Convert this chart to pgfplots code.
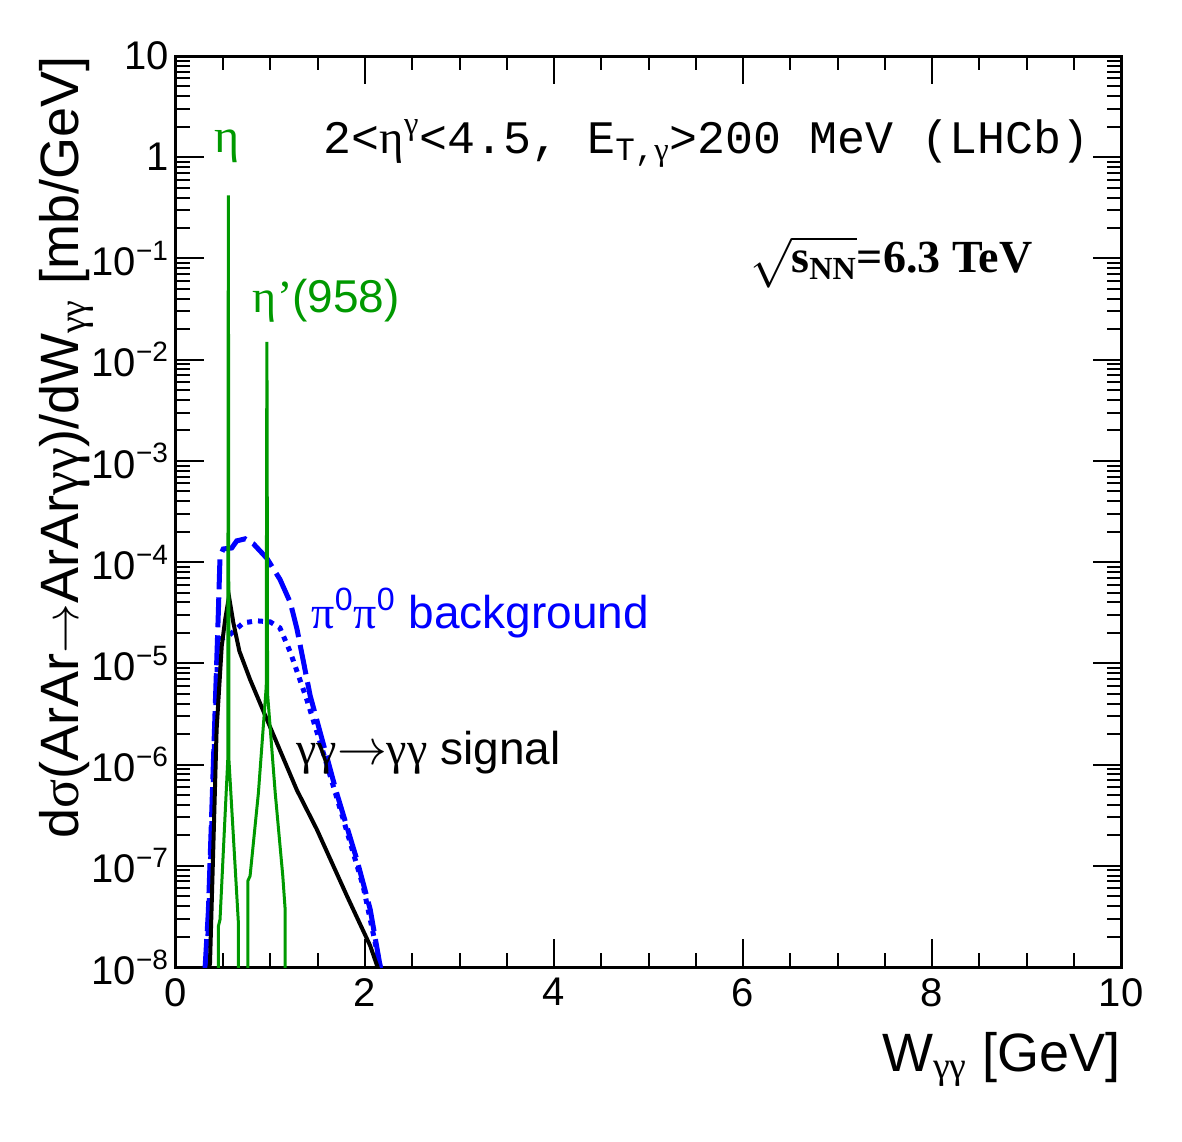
\documentclass[border=0pt]{standalone}
\usepackage{amsmath}
\usepackage{pgfplots}
\pgfplotsset{compat=1.18}
\usepackage{fontspec}
\setmainfont{Liberation Sans}
\newfontfamily\gr{Liberation Serif}
\newfontfamily\mono{Liberation Mono}
\newfontfamily\tms{Liberation Serif}
\definecolor{rgreen}{RGB}{0,153,0}
\definecolor{rblue}{RGB}{0,0,255}

\begin{document}
\begin{tikzpicture}
\begin{axis}[
  scale only axis, width=472.5pt, height=455.5pt,
  xmin=0, xmax=10, ymin=1e-8, ymax=10, ymode=log,
  axis line style={line width=1.5pt},
  tick align=inside, tick pos=both,
  major tick length=14pt, minor tick length=7pt,
  every tick/.style={black, line width=1pt},
  xtick={0,2,4,6,8,10}, xticklabels={0,2,4,6,8,10},
  minor x tick num=3,
  ytick={1e-8,1e-7,1e-6,1e-5,1e-4,1e-3,1e-2,1e-1,1,10},
  yticklabels={10\textsuperscript{−8},10\textsuperscript{−7},10\textsuperscript{−6},10\textsuperscript{−5},10\textsuperscript{−4},10\textsuperscript{−3},10\textsuperscript{−2},10\textsuperscript{−1},1,10},
  ticklabel style={font=\fontsize{20}{22}\selectfont},
  xticklabel style={yshift=-2pt},
  xlabel={W\textsubscript{\gr γγ} [GeV]},
  ylabel={d{\gr σ}(ArAr$\rightarrow$ArAr{\gr γγ})/dW\textsubscript{\gr γγ} [mb/GeV]},
  label style={font=\fontsize{27}{30}\selectfont, inner sep=0pt},
  xlabel style={at={(axis description cs:1,-0.1142)}, anchor=base east},
  ylabel style={at={(axis description cs:-0.1037,1)}, anchor=base east},
  no markers,
  clip=true,
]
% pi0pi0 background (dashed)
\addplot[rblue, line width=2.5pt, dash pattern=on 15pt off 4pt] coordinates {
(0.307,9.55e-9) (0.342,3.467e-8) (0.378,3.311e-7) (0.413,3.236e-6) (0.448,3.162e-5)
(0.466,1.148e-4) (0.50,1.349e-4) (0.59,1.380e-4) (0.643,1.622e-4) (0.731,1.698e-4)
(0.82,1.514e-4) (0.96,1.096e-4) (1.10,6.761e-5) (1.21,3.981e-5) (1.28,2.188e-5)
(1.42,4.786e-6) (1.70,5.248e-7) (1.914,1.148e-7) (2.055,3.715e-8) (2.16,1.023e-8) (2.17,7.9e-9)
};
% pi0pi0 background (dotted)
\addplot[rblue, line width=2.5pt, dash pattern=on 2.5pt off 3pt] coordinates {
(0.325,9.55e-9) (0.36,7.413e-8) (0.395,7.079e-7) (0.43,6.918e-6) (0.448,1.479e-5)
(0.466,1.738e-5) (0.554,1.862e-5) (0.713,2.512e-5) (0.855,2.630e-5) (0.996,2.570e-5)
(1.10,2.239e-5) (1.21,1.288e-5) (1.385,4.365e-6) (1.525,1.660e-6) (1.77,2.884e-7)
(1.98,6.310e-8) (2.16,1.023e-8) (2.17,7.9e-9)
};
% signal
\addplot[black, line width=2pt] coordinates {
(0.35,9.55e-9) (0.36,1.096e-8) (0.395,1.549e-7) (0.43,2.239e-6) (0.484,1.479e-5)
(0.52,2.692e-5) (0.561,4.571e-5) (0.607,2.512e-5) (0.671,1.318e-5) (0.784,6.918e-6)
(0.96,2.818e-6) (1.278,5.623e-7) (1.49,2.291e-7) (1.81,5.012e-8) (2.055,1.622e-8) (2.14,9.55e-9)
};
% eta, eta' resonances
\addplot[rgreen, line width=1.5pt] coordinates {
(0.448,1e-10) (0.448,2.512e-8) (0.466,2.951e-8) (0.548,1.122e-6) (0.551,1e-3) (0.554,0.42)
(0.557,1e-3) (0.56,1.122e-6) (0.66,2.754e-8) (0.662,1e-10) (0.76,1e-10) (0.76,7.079e-8)
(0.784,7.943e-8) (0.872,5.248e-7) (0.955,5.888e-6) (0.959,1e-3) (0.962,0.015) (0.965,1e-3)
(0.969,5.0e-6) (1.05,5.248e-7) (1.13,7.943e-8) (1.155,3.715e-8) (1.157,1e-10)
};
\node[rgreen, anchor=base, font=\gr\fontsize{24}{26}\selectfont] at (axis cs:0.54,1.12) {η};
\node[rgreen, anchor=base west, font=\fontsize{23}{26}\selectfont] at (axis cs:0.74,0.0295) {{\gr η’}(958)};
\node[rblue, anchor=base west, font=\fontsize{23}{26}\selectfont] at (axis cs:1.36,2.2e-5) {{\gr π}\textsuperscript{0}{\gr π}\textsuperscript{0} background};
\node[black, anchor=base west, font=\fontsize{23}{26}\selectfont] at (axis cs:1.20,1e-6) {{\gr γγ}$\rightarrow${\gr γγ} signal};
\node[anchor=base east, font=\mono\fontsize{23.3}{26}\selectfont] at (axis cs:9.74,1.1) {2<{\gr η}\textsuperscript{\gr γ}<4.5, E\textsubscript{T,{\gr γ}}>200 MeV (LHCb)};
\node[anchor=base west, font=\tms\bfseries\fontsize{23}{26}\selectfont] at (axis cs:6.0,0.073) {$\sqrt{\text{s}_{\text{NN}}}$=6.3 TeV};
\end{axis}
\pgfresetboundingbox
\path (-88pt,-87pt) rectangle (503pt,483.5pt);
\end{tikzpicture}
\end{document}
